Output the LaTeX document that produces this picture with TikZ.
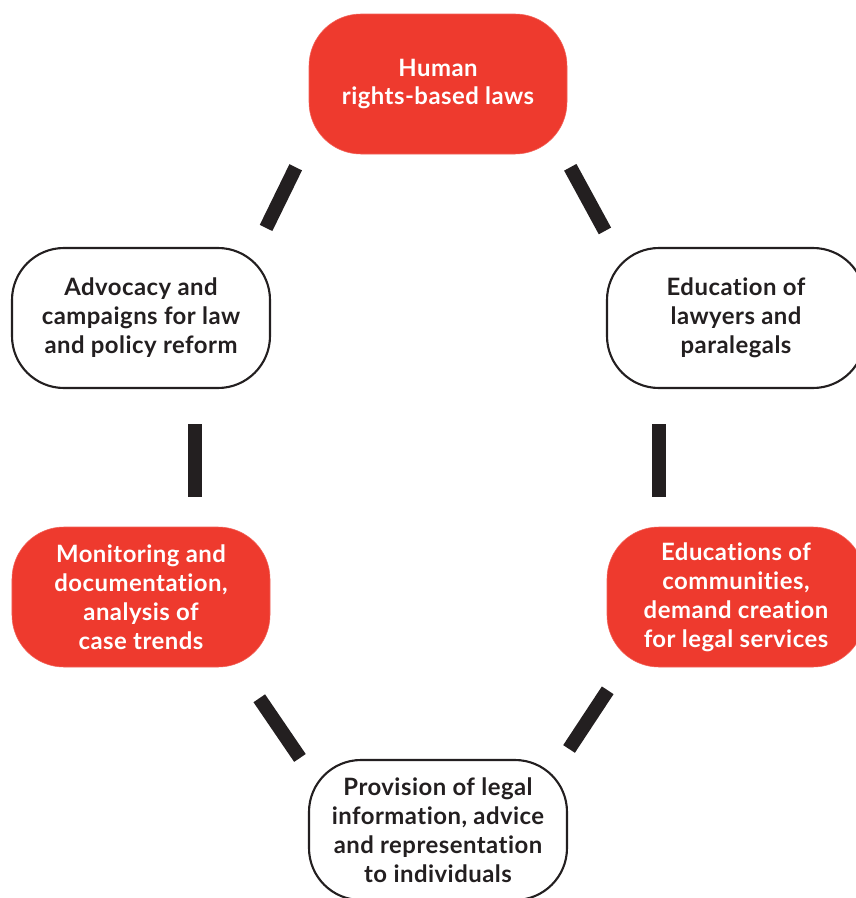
\documentclass[tikz,border=0pt]{standalone}
\usepackage{fontspec}
\setmainfont{Lato}[Ligatures=NoCommon,LetterSpace=2]
\definecolor{boxred}{HTML}{EE3A2E}
\definecolor{ink}{HTML}{231F20}
\begin{document}
\begin{tikzpicture}[
  box/.style={rounded corners=1.3cm,minimum width=6.45cm,minimum height=3.5cm,align=center,
    font=\fontsize{17}{20.6}\selectfont\bfseries},
  redbox/.style={box,fill=boxred,draw=boxred!80!white,thin,text=white},
  whitebox/.style={box,fill=white,draw=ink,line width=1.5pt,text=ink},
  bar/.style={draw=ink,line width=0.35cm}]
\useasboundingbox (0,0) rectangle (21.4,-22.45);

\node[redbox] (laws) at (10.95,-2.1) {Human\\rights-based laws};
\node[whitebox] (advocacy) at (3.525,-7.95) {Advocacy and\\campaigns for law\\and policy reform};
\node[whitebox] (lawyers) at (18.4,-7.95) {Education of\\lawyers and\\paralegals};
\node[redbox] (monitoring) at (3.525,-14.925) {Monitoring and\\documentation,\\analysis of\\case trends};
\node[redbox] (communities) at (18.4,-14.925) {Educations of\\communities,\\demand creation\\for legal services};
\node[whitebox] (provision) at (10.95,-20.75) {Provision of legal\\information, advice\\and representation\\to individuals};

\draw[bar] ([shift={(-0.325,-0.325)}]laws.south west) -- ([shift={(-0.125,0.475)}]advocacy.north east);
\draw[bar] ([shift={(0.075,-0.325)}]laws.south east) -- ([shift={(-0.025,0.4)}]lawyers.north west);
\draw[bar] ([shift={(1.35,-0.875)}]advocacy.south) -- ([shift={(1.35,0.75)}]monitoring.north);
\draw[bar] ([shift={(-1.925,-0.875)}]lawyers.south) -- ([shift={(-1.925,0.75)}]communities.north);
\draw[bar] ([shift={(-0.275,-0.775)}]monitoring.south east) -- ([shift={(-0.2,0.025)}]provision.north west);
\draw[bar] ([shift={(0.025,-0.575)}]communities.south west) -- ([shift={(0.025,0.25)}]provision.north east);

\end{tikzpicture}
\end{document}
